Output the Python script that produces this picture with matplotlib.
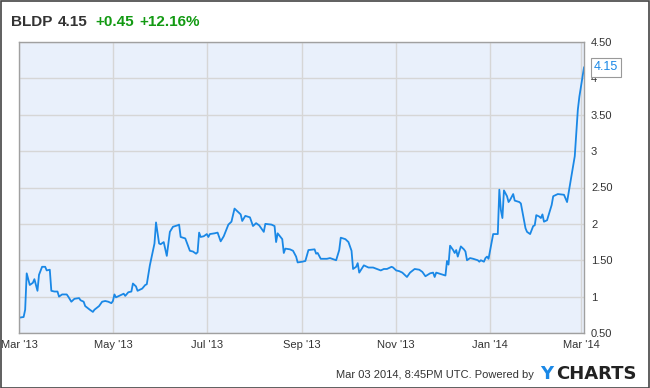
import matplotlib
matplotlib.use('Agg')
import matplotlib.pyplot as plt
from matplotlib.patches import Rectangle
from matplotlib.ticker import FuncFormatter
import pandas as pd

# BLDP price, Mar 2013 - Mar 2014
dates = [
    '2013-03-01', '2013-03-04', '2013-03-05', '2013-03-06', '2013-03-08', '2013-03-10',
    '2013-03-11', '2013-03-13', '2013-03-14', '2013-03-16', '2013-03-18', '2013-03-19',
    '2013-03-21', '2013-03-22', '2013-03-24', '2013-03-26', '2013-03-27', '2013-03-29',
    '2013-04-01', '2013-04-02', '2013-04-04', '2013-04-06', '2013-04-09', '2013-04-10',
    '2013-04-12', '2013-04-13', '2013-04-16', '2013-04-18', '2013-04-19', '2013-04-22',
    '2013-04-24', '2013-04-26', '2013-04-28', '2013-04-30', '2013-05-01', '2013-05-02',
    '2013-05-03', '2013-05-06', '2013-05-08', '2013-05-09', '2013-05-11', '2013-05-13',
    '2013-05-14', '2013-05-16', '2013-05-17', '2013-05-20', '2013-05-22', '2013-05-23',
    '2013-05-25', '2013-05-28', '2013-05-29', '2013-05-31', '2013-06-01', '2013-06-03',
    '2013-06-05', '2013-06-07', '2013-06-09', '2013-06-12', '2013-06-13', '2013-06-14',
    '2013-06-17', '2013-06-20', '2013-06-22', '2013-06-24', '2013-06-25', '2013-06-26',
    '2013-06-27', '2013-06-29', '2013-07-01', '2013-07-02', '2013-07-03', '2013-07-06',
    '2013-07-08', '2013-07-10', '2013-07-12', '2013-07-15', '2013-07-17', '2013-07-19',
    '2013-07-22', '2013-07-23', '2013-07-24', '2013-07-26', '2013-07-29', '2013-07-31',
    '2013-08-02', '2013-08-04', '2013-08-07', '2013-08-08', '2013-08-12', '2013-08-14',
    '2013-08-15', '2013-08-16', '2013-08-19', '2013-08-20', '2013-08-21', '2013-08-24',
    '2013-08-26', '2013-08-28', '2013-08-29', '2013-09-01', '2013-09-03', '2013-09-05',
    '2013-09-09', '2013-09-10', '2013-09-11', '2013-09-13', '2013-09-17', '2013-09-19',
    '2013-09-23', '2013-09-25', '2013-09-26', '2013-09-29', '2013-10-01', '2013-10-03',
    '2013-10-04', '2013-10-06', '2013-10-07', '2013-10-08', '2013-10-11', '2013-10-14',
    '2013-10-17', '2013-10-22', '2013-10-24', '2013-10-26', '2013-10-29', '2013-10-30',
    '2013-11-01', '2013-11-03', '2013-11-05', '2013-11-08', '2013-11-10', '2013-11-13',
    '2013-11-16', '2013-11-18', '2013-11-20', '2013-11-23', '2013-11-25', '2013-11-26',
    '2013-11-27', '2013-11-30', '2013-12-03', '2013-12-04', '2013-12-05', '2013-12-06',
    '2013-12-08', '2013-12-09', '2013-12-10', '2013-12-11', '2013-12-13', '2013-12-15',
    '2013-12-16', '2013-12-17', '2013-12-19', '2013-12-21', '2013-12-24', '2013-12-25',
    '2013-12-26', '2013-12-28', '2013-12-29', '2013-12-30', '2013-12-31', '2014-01-03',
    '2014-01-06', '2014-01-07', '2014-01-08', '2014-01-09', '2014-01-10', '2014-01-12',
    '2014-01-13', '2014-01-14', '2014-01-16', '2014-01-17', '2014-01-20', '2014-01-21',
    '2014-01-24', '2014-01-25', '2014-01-27', '2014-01-29', '2014-01-30', '2014-01-31',
    '2014-02-02', '2014-02-03', '2014-02-04', '2014-02-05', '2014-02-07', '2014-02-10',
    '2014-02-11', '2014-02-14', '2014-02-18', '2014-02-20', '2014-02-25', '2014-02-27',
    '2014-02-28', '2014-03-03',
]
prices = [
    0.71, 0.72, 0.82, 1.32, 1.16, 1.19,
    1.24, 1.08, 1.30, 1.41, 1.41, 1.36,
    1.37, 1.08, 1.07, 1.07, 1.00, 1.03,
    1.03, 1.00, 0.93, 0.97, 0.98, 0.95,
    0.93, 0.87, 0.82, 0.79, 0.82, 0.87,
    0.93, 0.94, 0.93, 0.91, 0.94, 1.03,
    0.99, 1.02, 1.04, 1.01, 1.06, 1.07,
    1.18, 1.14, 1.08, 1.11, 1.16, 1.17,
    1.43, 1.73, 2.02, 1.73, 1.72, 1.75,
    1.56, 1.89, 1.96, 1.98, 1.99, 1.82,
    1.80, 1.63, 1.62, 1.59, 1.61, 1.88,
    1.82, 1.83, 1.86, 1.82, 1.86, 1.87,
    1.88, 1.76, 1.83, 1.99, 2.03, 2.21,
    2.15, 2.13, 2.04, 2.11, 2.09, 1.97,
    2.01, 1.98, 1.89, 2.00, 1.99, 1.97,
    1.75, 1.87, 1.79, 1.60, 1.66, 1.65,
    1.63, 1.55, 1.47, 1.48, 1.49, 1.64,
    1.65, 1.59, 1.60, 1.52, 1.52, 1.53,
    1.50, 1.64, 1.81, 1.79, 1.75, 1.63,
    1.38, 1.41, 1.46, 1.33, 1.43, 1.40,
    1.40, 1.36, 1.38, 1.38, 1.41, 1.40,
    1.36, 1.35, 1.33, 1.27, 1.33, 1.38,
    1.37, 1.34, 1.28, 1.32, 1.33, 1.27,
    1.33, 1.31, 1.29, 1.49, 1.44, 1.70,
    1.64, 1.60, 1.64, 1.55, 1.69, 1.65,
    1.62, 1.50, 1.53, 1.52, 1.50, 1.48,
    1.50, 1.48, 1.53, 1.55, 1.52, 1.86,
    1.86, 2.47, 2.19, 2.08, 2.46, 2.38,
    2.30, 2.33, 2.41, 2.32, 2.30, 2.28,
    1.94, 1.89, 1.86, 1.97, 1.98, 2.12,
    2.10, 2.08, 2.13, 2.03, 2.05, 2.26,
    2.38, 2.41, 2.40, 2.30, 2.93, 3.57,
    3.75, 4.15,
]

tick_dates = ['2013-03-01', '2013-05-01', '2013-07-01', '2013-09-01',
              '2013-11-01', '2014-01-01', '2014-03-01']
tick_labels = ["Mar '13", "May '13", "Jul '13", "Sep '13", "Nov '13", "Jan '14", "Mar '14"]
y_ticks = [0.5, 1, 1.5, 2, 2.5, 3, 3.5, 4, 4.5]

ticker = 'BLDP'
last_price = '4.15'
change = '+0.45'
change_pct = '+12.16%'
stamp = 'Mar 03 2014, 8:45PM UTC. Powered by'

plt.rcParams['font.family'] = ['Liberation Sans', 'DejaVu Sans']

W, H = 650, 388
fig = plt.figure(figsize=(W / 100, H / 100), dpi=100)
fig.patch.set_facecolor('white')

line_color = '#1a88e6'
text_color = '#333333'
green = '#139a13'

ax = fig.add_axes([19 / W, 1 - 333 / H, (584 - 19) / W, (333 - 42) / H])
ax.set_facecolor('#e9f0fb')
x = pd.to_datetime(dates)
ax.plot(x, prices, color=line_color, lw=1.3, solid_joinstyle='round')

ax.set_xlim(pd.Timestamp('2013-03-01'), pd.Timestamp('2014-03-03'))
ax.set_ylim(0.5, 4.5)
ax.set_xticks(pd.to_datetime(tick_dates))
ax.set_xticklabels(tick_labels)
ax.set_yticks(y_ticks)
ax.yaxis.set_major_formatter(FuncFormatter(lambda v, p: f'{v:g}' if v == int(v) else f'{v:.2f}'))
ax.yaxis.tick_right()
ax.tick_params(length=0, labelsize=8, colors=text_color, pad=5)
ax.grid(True, color='#d6d6d6', lw=1)
ax.set_axisbelow(True)
for s in ax.spines.values():
    s.set_color('#a0a0a0')
    s.set_linewidth(1)

# last value tag
ax.annotate(last_price, xy=(x[-1], prices[-1]), xytext=(7, 0), textcoords='offset points',
            va='center', ha='left', color=line_color, fontsize=9,
            bbox=dict(boxstyle='square,pad=0.25', fc='white', ec='#999999', lw=0.8),
            annotation_clip=False)

# header
base = 1 - 26 / H
fig.text(11 / W, base, ticker, fontsize=11, fontweight='bold', color=text_color, va='baseline')
fig.text(58 / W, base, last_price, fontsize=11, fontweight='bold', color=text_color, va='baseline')
fig.text(95 / W, base, change, fontsize=11, fontweight='bold', color=green, va='baseline')
fig.text(139 / W, base, change_pct, fontsize=11, fontweight='bold', color=green, va='baseline')

# footer
fig.text(534 / W, 1 - 375 / H, stamp, fontsize=8, color=text_color, ha='right', va='center')
fig.text(540 / W, 1 - 374 / H, 'Y', fontsize=13, fontweight='bold', color=line_color,
         va='center', family=['DejaVu Sans'])
fig.text(556 / W, 1 - 374 / H, 'CHARTS', fontsize=13, fontweight='bold', color='#222222',
         va='center', family=['DejaVu Sans'])

# outer frame
fig.add_artist(Rectangle((0.5 / W, 0.5 / H), 1 - 1.5 / W, 1 - 1.5 / H, transform=fig.transFigure,
                         fill=False, ec='#444444', lw=1.2))

fig.savefig('out.png', dpi=100)
